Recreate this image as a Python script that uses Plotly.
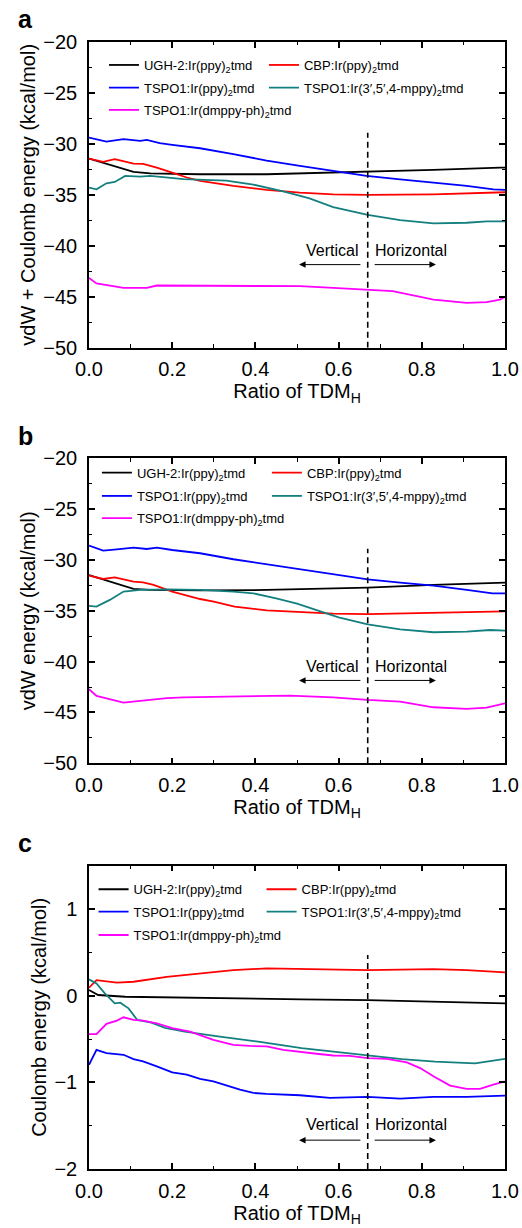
import plotly.graph_objects as go

# energies (kcal/mol) vs ratio of TDM_H as (x, y) points
names = ["UGH-2:Ir(ppy)<sub>2</sub>tmd", "CBP:Ir(ppy)<sub>2</sub>tmd",
         "TSPO1:Ir(ppy)<sub>2</sub>tmd", "TSPO1:Ir(3′,5′,4-mppy)<sub>2</sub>tmd",
         "TSPO1:Ir(dmppy-ph)<sub>2</sub>tmd"]
colors = ["#000000", "#ff0000", "#0000ff", "#13807f", "#ff00ff"]

# panel a: vdW + Coulomb
a_ugh = [(0, -31.44), (0.05, -32.07), (0.107, -32.75), (0.147, -32.89), (0.267, -32.98), (0.427, -32.98),
         (0.587, -32.82), (0.67, -32.69), (0.828, -32.56), (0.988, -32.33), (1.0, -32.33)]
a_cbp = [(0, -31.44), (0.034, -31.77), (0.062, -31.5), (0.09, -31.74), (0.107, -31.93), (0.13, -31.97),
         (0.163, -32.33), (0.2, -32.82), (0.235, -33.3), (0.267, -33.64), (0.347, -34.13), (0.427, -34.52),
         (0.507, -34.79), (0.587, -34.95), (0.67, -35.0), (0.828, -34.95), (1.0, -34.75)]
a_tspo = [(0, -29.38), (0.042, -29.77), (0.083, -29.54), (0.123, -29.7), (0.139, -29.6), (0.17, -29.93),
          (0.2, -30.1), (0.267, -30.43), (0.347, -31.0), (0.427, -31.64), (0.507, -32.16), (0.587, -32.66),
          (0.62, -32.9), (0.667, -33.15), (0.748, -33.48), (0.828, -33.8), (0.908, -34.13), (0.972, -34.46),
          (1.0, -34.52)]
a_mppy = [(0, -34.3), (0.018, -34.46), (0.042, -33.87), (0.062, -33.74), (0.087, -33.15), (0.123, -33.21),
          (0.147, -33.15), (0.227, -33.45), (0.33, -33.6), (0.395, -34.0), (0.467, -34.65), (0.53, -35.35),
          (0.587, -36.2), (0.67, -36.98), (0.748, -37.48), (0.828, -37.8), (0.908, -37.74), (0.956, -37.6),
          (1.0, -37.6)]
a_dmppy = [(0, -43.15), (0.018, -43.7), (0.083, -44.13), (0.139, -44.13), (0.163, -43.9), (0.2, -43.9),
           (0.347, -43.9), (0.507, -43.97), (0.587, -44.13), (0.67, -44.36), (0.73, -44.46), (0.788, -44.95),
           (0.828, -45.28), (0.908, -45.6), (0.956, -45.53), (0.988, -45.28), (1.0, -45.01)]

# panel b: vdW
b_ugh = [(0, -31.48), (0.05, -32.13), (0.107, -32.85), (0.147, -32.95), (0.267, -33.0), (0.427, -32.95),
         (0.67, -32.72), (0.828, -32.46), (1.0, -32.23)]
b_cbp = [(0, -31.54), (0.034, -31.87), (0.062, -31.71), (0.107, -32.13), (0.13, -32.2), (0.155, -32.46),
         (0.2, -33.11), (0.243, -33.6), (0.267, -33.84), (0.3, -34.1), (0.35, -34.6), (0.427, -34.95),
         (0.507, -35.15), (0.587, -35.28), (0.67, -35.32), (0.828, -35.22), (1.0, -35.05)]
b_tspo = [(0, -28.59), (0.034, -29.08), (0.067, -28.95), (0.107, -28.79), (0.139, -28.92), (0.163, -28.79),
          (0.2, -29.02), (0.267, -29.34), (0.347, -29.93), (0.427, -30.42), (0.507, -30.95), (0.587, -31.45),
          (0.67, -31.9), (0.748, -32.23), (0.828, -32.52), (0.908, -32.95), (0.97, -33.28), (1.0, -33.28)]
b_mppy = [(0, -34.52), (0.018, -34.59), (0.05, -33.93), (0.083, -33.11), (0.123, -32.95), (0.187, -32.89),
          (0.267, -32.95), (0.347, -33.11), (0.395, -33.28), (0.45, -33.77), (0.5, -34.3), (0.55, -35.0),
          (0.6, -35.65), (0.67, -36.34), (0.748, -36.82), (0.828, -37.11), (0.908, -37.05), (0.964, -36.89),
          (1.0, -36.95)]
b_dmppy = [(0, -42.72), (0.018, -43.38), (0.083, -44.04), (0.139, -43.77), (0.187, -43.6), (0.227, -43.51),
           (0.347, -43.44), (0.483, -43.34), (0.587, -43.51), (0.67, -43.77), (0.748, -43.93), (0.828, -44.49),
           (0.908, -44.65), (0.956, -44.52), (1.0, -44.1)]

# panel c: Coulomb
c_ugh = [(0, 0.065), (0.022, 0.008), (0.087, -0.012), (0.19, -0.019), (0.35, -0.038), (0.51, -0.042),
         (0.67, -0.05), (0.83, -0.07), (1.0, -0.088)]
c_cbp = [(0, 0.092), (0.018, 0.18), (0.067, 0.15), (0.107, 0.161), (0.187, 0.218), (0.267, 0.257),
         (0.347, 0.295), (0.427, 0.315), (0.507, 0.307), (0.587, 0.307), (0.67, 0.295), (0.828, 0.307),
         (0.908, 0.295), (1.0, 0.269)]
c_tspo = [(0, -0.797), (0.018, -0.624), (0.042, -0.662), (0.083, -0.682), (0.107, -0.731), (0.13, -0.758),
          (0.163, -0.816), (0.2, -0.885), (0.235, -0.911), (0.267, -0.961), (0.299, -0.989), (0.331, -1.038),
          (0.363, -1.084), (0.395, -1.122), (0.427, -1.133), (0.507, -1.149), (0.579, -1.18), (0.67, -1.168),
          (0.748, -1.187), (0.828, -1.168), (0.908, -1.168), (1.0, -1.153)]
c_mppy = [(0, 0.188), (0.018, 0.142), (0.038, 0.027), (0.062, -0.088), (0.075, -0.08), (0.095, -0.146),
          (0.116, -0.28), (0.15, -0.31), (0.183, -0.37), (0.23, -0.414), (0.31, -0.47), (0.407, -0.53),
          (0.511, -0.606), (0.587, -0.645), (0.67, -0.69), (0.752, -0.732), (0.832, -0.76), (0.928, -0.78),
          (1.0, -0.73)]
c_dmppy = [(0, -0.444), (0.018, -0.444), (0.042, -0.325), (0.067, -0.287), (0.083, -0.249), (0.107, -0.28),
           (0.13, -0.287), (0.163, -0.318), (0.2, -0.375), (0.243, -0.414), (0.299, -0.51), (0.347, -0.567),
           (0.387, -0.58), (0.427, -0.586), (0.467, -0.624), (0.507, -0.643), (0.547, -0.67), (0.587, -0.69),
           (0.627, -0.694), (0.67, -0.72), (0.716, -0.73), (0.764, -0.77), (0.796, -0.835), (0.828, -0.93),
           (0.868, -1.038), (0.908, -1.076), (0.94, -1.076), (0.972, -1.026), (1.0, -0.989)]

# vertical/horizontal boundary and top of dashed line per panel
divider_x = 0.67
divider_top = [-28.9, -28.9, 0.47]

# legend layout per panel: legend x (paper), column spacing (px), row centres (paper)
panels = [
    dict(series=[a_ugh, a_cbp, a_tspo, a_mppy, a_dmppy], title="vdW + Coulomb energy (kcal/mol)",
         yrange=[-50, -20], dtick=5, label="a", domain=[0.7288, 1.0], text_y=-40.5, arrow_y=-41.85,
         leg_x=0.036, leg_dx=160, rows=[0.9796, 0.9594, 0.9397]),
    dict(series=[b_ugh, b_cbp, b_tspo, b_mppy, b_dmppy], title="vdW energy (kcal/mol)",
         yrange=[-50, -20], dtick=5, label="b", domain=[0.36, 0.6306], text_y=-40.5, arrow_y=-41.85,
         leg_x=0.019, leg_dx=170, rows=[0.6178, 0.5972, 0.5774]),
    dict(series=[c_ugh, c_cbp, c_tspo, c_mppy, c_dmppy], title="Coulomb energy (kcal/mol)",
         yrange=[-2, 1.5], dtick=1, label="c", domain=[0, 0.2691], text_y=-1.49, arrow_y=-1.667,
         leg_x=0.011, leg_dx=168, rows=[0.2482, 0.2283, 0.2076]),
]
row_of = [0, 0, 1, 1, 2]

FONT = "Liberation Sans, Arial, sans-serif"
fig = go.Figure()
annotations = []
layout = {}

for i, p in enumerate(panels):
    n = "" if i == 0 else str(i + 1)
    xref, yref = "x" + n, "y" + n
    for k, (s, name, col) in enumerate(zip(p["series"], names, colors)):
        r = row_of[k]
        leg_id = 3 * i + r + 1
        leg = "legend" if leg_id == 1 else "legend" + str(leg_id)
        first_col = k in (0, 2)
        fig.add_trace(go.Scatter(x=[v[0] for v in s], y=[v[1] for v in s], mode="lines", name=name,
                                 line=dict(color=col, width=1.8), xaxis=xref, yaxis=yref, legend=leg,
                                 legendwidth=(p["leg_dx"] - 45) if first_col else None))
        layout[leg] = dict(orientation="h", x=p["leg_x"], xanchor="left",
                           y=p["rows"][r], yanchor="middle", font=dict(size=13, color="black"),
                           bgcolor="rgba(0,0,0,0)", borderwidth=0)
    fig.add_trace(go.Scatter(x=[divider_x, divider_x], y=[p["yrange"][0], divider_top[i]], mode="lines",
                             line=dict(color="black", width=1.6, dash="6px,4px"), showlegend=False,
                             xaxis=xref, yaxis=yref))

    ax = dict(showline=True, linecolor="black", linewidth=1.5, mirror="ticks", ticks="inside",
              ticklen=6, tickwidth=1.5, tickcolor="black", showgrid=False, zeroline=False,
              tickfont=dict(size=20, color="black"))
    layout["xaxis" + n] = dict(ax, range=[0, 1], dtick=0.2, tick0=0, tickformat=".1f", ticklabelstandoff=3,
                               automargin=False,
                               minor=dict(dtick=0.1, ticks="inside", ticklen=3.5, tickwidth=1.2, tickcolor="black"),
                               title=dict(text="Ratio of TDM<sub>H</sub>", font=dict(size=20), standoff=4),
                               anchor=yref)
    layout["yaxis" + n] = dict(ax, range=p["yrange"], dtick=p["dtick"], tick0=0, ticklabelstandoff=6,
                               automargin=True,
                               minor=dict(dtick=p["dtick"] / 2, ticks="inside", ticklen=3.5, tickwidth=1.2,
                                          tickcolor="black"),
                               title=dict(text=p["title"], font=dict(size=20), standoff=2),
                               domain=p["domain"], anchor=xref)

    # arrows and labels around the boundary
    annotations += [
        dict(x=0.505, y=p["arrow_y"], ax=0.656, ay=p["arrow_y"], xref=xref, yref=yref, axref=xref, ayref=yref,
             text="", showarrow=True, arrowhead=2, arrowsize=1.3, arrowwidth=1, arrowcolor="black"),
        dict(x=0.834, y=p["arrow_y"], ax=0.683, ay=p["arrow_y"], xref=xref, yref=yref, axref=xref, ayref=yref,
             text="", showarrow=True, arrowhead=2, arrowsize=1.3, arrowwidth=1, arrowcolor="black"),
        dict(x=0.585, y=p["text_y"], xref=xref, yref=yref, text="Vertical", showarrow=False,
             font=dict(size=16, color="black")),
        dict(x=0.773, y=p["text_y"], xref=xref, yref=yref, text="Horizontal", showarrow=False,
             font=dict(size=16, color="black")),
        dict(x=-0.175, y=p["domain"][1] + 0.006, xref="paper", yref="paper", xanchor="left", yanchor="bottom",
             text="<b>" + p["label"] + "</b>", showarrow=False, font=dict(size=25, color="black")),
    ]

fig.update_layout(**layout)
fig.update_layout(template="none", width=522, height=1228, margin=dict(l=89, r=17, t=42, b=59),
                  plot_bgcolor="white", paper_bgcolor="white",
                  font=dict(family=FONT, color="black"), annotations=annotations)

# drop the browser's default 8px body margin so the figure sits at the page origin
fig.write_html("out.html", config={"displayModeBar": False},
               post_script="document.body.style.margin='0px';")
